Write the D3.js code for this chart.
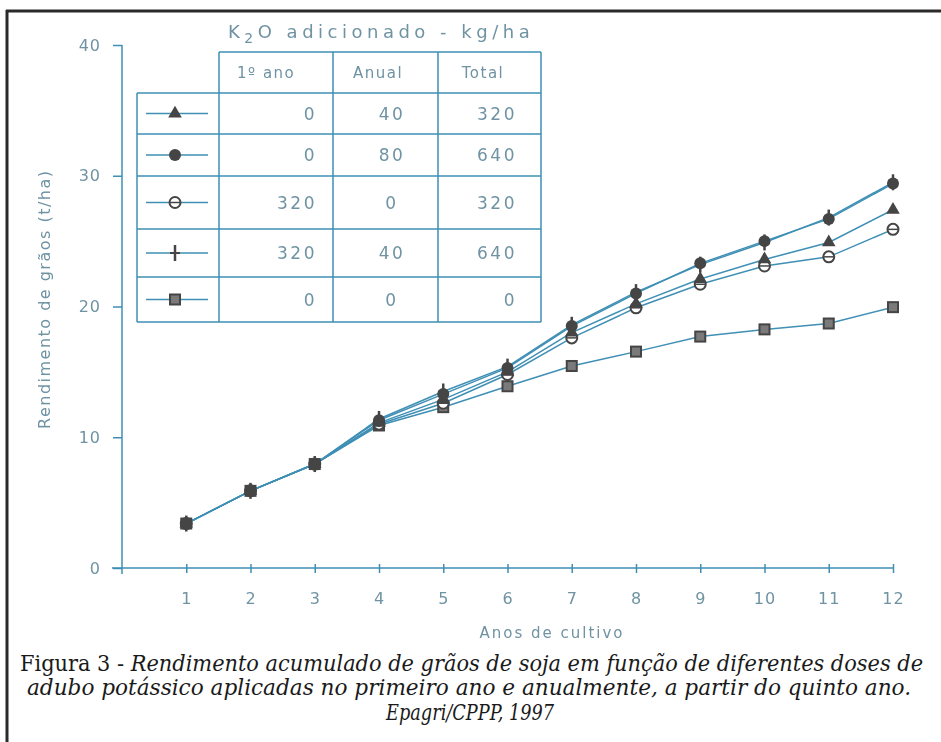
<!DOCTYPE html>
<html>
<head>
<meta charset="utf-8">
<script src="https://cdn.jsdelivr.net/npm/d3@7/dist/d3.min.js"></script>
<style>
  body { margin: 0; background: #fff; }
  svg { display: block; }
</style>
</head>
<body>
<div id="chart"></div>
<script>
// anos de cultivo
const years = [1, 2, 3, 4, 5, 6, 7, 8, 9, 10, 11, 12];

// rendimento acumulado (t/ha), one array per treatment
const triangleVals = [3.4, 5.9, 7.95, 11.1, 12.9, 15.0, 18.0, 20.2, 22.1, 23.6, 24.9, 27.4];
const filledVals   = [3.4, 5.9, 7.95, 11.3, 13.3, 15.3, 18.5, 21.0, 23.3, 25.0, 26.7, 29.4];
const openVals     = [3.4, 5.9, 7.95, 11.0, 12.6, 14.8, 17.6, 19.9, 21.7, 23.1, 23.8, 25.9];
const tickVals     = [3.4, 5.9, 7.95, 11.4, 13.5, 15.4, 18.6, 21.1, 23.2, 24.9, 26.8, 29.5];
const squareVals   = [3.4, 5.9, 7.95, 10.9, 12.3, 13.9, 15.45, 16.55, 17.7, 18.25, 18.7, 19.95];

// K2O table
const markerKinds = ["triangle", "filled", "open", "tick", "square"];
const firstYear = [0, 0, 320, 320, 0];
const annual    = [40, 80, 0, 40, 0];
const total     = [320, 640, 320, 640, 0];
const headers   = ["1º ano", "Anual", "Total"];

const yTicks = [0, 10, 20, 30, 40];

const W = 941, H = 742;
const lineCol = "#3f8fb5", textCol = "#6f93a3", markCol = "#454545";

const svg = d3.select("#chart").append("svg")
  .attr("width", W)
  .attr("height", H);

const defs = svg.append("defs");
defs.append("filter").attr("id", "soft")
  .append("feGaussianBlur").attr("stdDeviation", 0.6);

// figure frame
svg.append("line").attr("x1", 7).attr("x2", 7).attr("y1", 10).attr("y2", H)
  .attr("stroke", "#2a2a2a").attr("stroke-width", 3);
svg.append("line").attr("x1", 6).attr("x2", W).attr("y1", 11).attr("y2", 11)
  .attr("stroke", "#2a2a2a").attr("stroke-width", 3);

const g = svg.append("g").attr("filter", "url(#soft)");

let x = d3.scaleLinear().domain([0, 12]).range([122, 893]);
let y = d3.scaleLinear().domain([0, 40]).range([568, 45]);

// y axis
let yAxis = g.append("g")
  .attr("transform", "translate(122,0)")
  .call(d3.axisLeft(y).tickValues(yTicks).tickSize(9).tickPadding(12));
yAxis.select(".domain").remove();
yAxis.selectAll("line").attr("stroke", lineCol).attr("stroke-width", 1.5);
yAxis.selectAll("text")
  .attr("fill", textCol)
  .style("font", "16px 'DejaVu Sans'")
  .style("letter-spacing", "1px");
g.append("line")
  .attr("x1", 122).attr("x2", 122).attr("y1", y(40)).attr("y2", y(0) + 6)
  .attr("stroke", lineCol).attr("stroke-width", 1.5);

// x axis
let xAxis = g.append("g")
  .attr("transform", `translate(0,${y(0)})`)
  .call(d3.axisBottom(x).tickValues(years).tickSize(5).tickPadding(20));
xAxis.select(".domain").remove();
xAxis.selectAll("line").attr("y1", -4).attr("stroke", lineCol).attr("stroke-width", 1.5);
xAxis.selectAll("text")
  .attr("fill", textCol)
  .style("font", "16px 'DejaVu Sans'")
  .style("letter-spacing", "1px");
g.append("line")
  .attr("x1", 112).attr("x2", x(12)).attr("y1", y(0)).attr("y2", y(0))
  .attr("stroke", lineCol).attr("stroke-width", 1.5);

// axis titles
g.append("text")
  .attr("transform", "translate(50,300) rotate(-90)")
  .attr("text-anchor", "middle")
  .attr("textLength", 258).attr("lengthAdjust", "spacing")
  .attr("fill", textCol)
  .style("font", "16px 'DejaVu Sans'")
  .text("Rendimento de grãos (t/ha)");

g.append("text")
  .attr("x", 552).attr("y", 638)
  .attr("text-anchor", "middle")
  .attr("fill", textCol)
  .style("font", "15px 'DejaVu Sans'")
  .style("letter-spacing", "2px")
  .text("Anos de cultivo");

// markers
function drawMarker(sel, kind, cx, cy) {
  if (kind === "triangle") {
    sel.append("path")
      .attr("d", d3.symbol(d3.symbolTriangle, 80)())
      .attr("transform", `translate(${cx},${cy})`)
      .attr("fill", markCol);
  } else if (kind === "filled") {
    sel.append("circle").attr("cx", cx).attr("cy", cy).attr("r", 6)
      .attr("fill", markCol);
  } else if (kind === "open") {
    sel.append("circle").attr("cx", cx).attr("cy", cy).attr("r", 5.5)
      .attr("fill", "#fff").attr("stroke", markCol).attr("stroke-width", 2);
    sel.append("line").attr("x1", cx - 5).attr("x2", cx + 5).attr("y1", cy).attr("y2", cy)
      .attr("stroke", markCol).attr("stroke-width", 1.5);
  } else if (kind === "tick") {
    sel.append("line").attr("x1", cx).attr("x2", cx).attr("y1", cy - 8).attr("y2", cy + 8)
      .attr("stroke", markCol).attr("stroke-width", 2.5);
    sel.append("line").attr("x1", cx - 5).attr("x2", cx + 5).attr("y1", cy).attr("y2", cy)
      .attr("stroke", markCol).attr("stroke-width", 2);
  } else {
    sel.append("rect").attr("x", cx - 5).attr("y", cy - 5).attr("width", 10).attr("height", 10)
      .attr("fill", "#7a7a7a").attr("stroke", markCol).attr("stroke-width", 2);
  }
}

let allSeries = [
  { kind: "square", vals: squareVals },
  { kind: "open", vals: openVals },
  { kind: "triangle", vals: triangleVals },
  { kind: "filled", vals: filledVals },
  { kind: "tick", vals: tickVals }
];

let line = d3.line()
  .x((d, i) => x(years[i]))
  .y(d => y(d));

allSeries.forEach(s => {
  g.append("path")
    .datum(s.vals)
    .attr("d", line)
    .attr("fill", "none")
    .attr("stroke", lineCol)
    .attr("stroke-width", 1.5);
});
allSeries.forEach(s => {
  let mg = g.append("g");
  s.vals.forEach((v, i) => drawMarker(mg, s.kind, x(years[i]), y(v)));
});

// legend table
let colX = [137, 219, 333, 438, 541];
let rowY = [52, 93, 134, 176, 229, 277, 322];
let tbl = g.append("g").attr("stroke", lineCol).attr("stroke-width", 1.5);

tbl.append("line").attr("x1", colX[1]).attr("x2", colX[4]).attr("y1", rowY[0]).attr("y2", rowY[0]);
rowY.slice(1).forEach(ry => {
  tbl.append("line").attr("x1", colX[0]).attr("x2", colX[4]).attr("y1", ry).attr("y2", ry);
});
tbl.append("line").attr("x1", colX[0]).attr("x2", colX[0]).attr("y1", rowY[1]).attr("y2", rowY[6]);
colX.slice(1).forEach(cx => {
  tbl.append("line").attr("x1", cx).attr("x2", cx).attr("y1", rowY[0]).attr("y2", rowY[6]);
});

let cellFont = "17px 'DejaVu Sans'";

// title over the table
let title = g.append("text")
  .attr("x", 228).attr("y", 38)
  .attr("fill", textCol)
  .style("font", "18px 'DejaVu Sans'")
  .style("letter-spacing", "4.5px");
title.append("tspan").text("K");
title.append("tspan").attr("dy", 5).style("font-size", "14px").text("2");
title.append("tspan").attr("dy", -5).text("O adicionado - kg/ha");

let headX = [237, 378, 483];
headers.forEach((h, i) => {
  g.append("text")
    .attr("x", headX[i]).attr("y", 78)
    .attr("text-anchor", i === 0 ? "start" : "middle")
    .attr("fill", textCol)
    .style("font", "15px 'DejaVu Sans'")
    .style("letter-spacing", "1.5px")
    .text(h);
});

markerKinds.forEach((k, i) => {
  let cy = (rowY[i + 1] + rowY[i + 2]) / 2;
  g.append("line")
    .attr("x1", 146).attr("x2", 208).attr("y1", cy).attr("y2", cy)
    .attr("stroke", lineCol).attr("stroke-width", 1.5);
  drawMarker(g, k, 175, cy);

  [[firstYear[i], 317], [annual[i], 392], [total[i], 517]].forEach(([v, tx], j) => {
    g.append("text")
      .attr("x", tx).attr("y", cy + 6)
      .attr("text-anchor", j === 1 ? "middle" : "end")
      .attr("fill", textCol)
      .style("font", cellFont)
      .style("letter-spacing", "2.5px")
      .text(v);
  });
});

// caption
let cap = svg.append("g").attr("fill", "#1a1a1a")
  .style("font-family", "'DejaVu Serif Condensed', 'DejaVu Serif'")
  .style("font-size", "22px");
let c1 = cap.append("text").attr("x", 20).attr("y", 671)
  .attr("textLength", 903).attr("lengthAdjust", "spacingAndGlyphs");
c1.append("tspan").text("Figura 3 - ");
c1.append("tspan").style("font-style", "italic")
  .text("Rendimento acumulado de grãos de soja em função de diferentes doses de");
cap.append("text").attr("x", 27).attr("y", 695)
  .attr("textLength", 884).attr("lengthAdjust", "spacingAndGlyphs")
  .style("font-style", "italic")
  .text("adubo potássico aplicadas no primeiro ano e anualmente, a partir do quinto ano.");
cap.append("text").attr("x", 470).attr("y", 720)
  .attr("text-anchor", "middle")
  .attr("textLength", 168).attr("lengthAdjust", "spacingAndGlyphs")
  .style("font-style", "italic")
  .text("Epagri/CPPP, 1997");
</script>
</body>
</html>
